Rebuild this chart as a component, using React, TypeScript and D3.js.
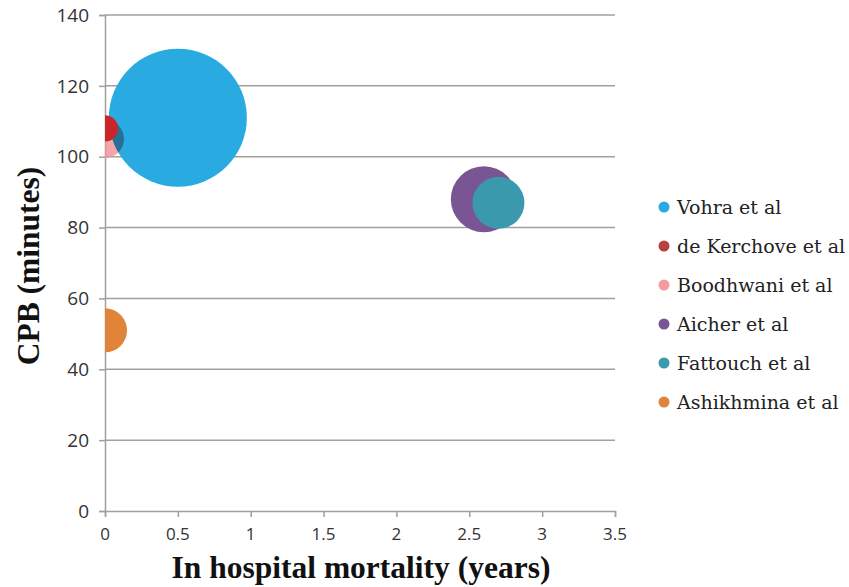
import * as d3 from 'd3';
import React, { useEffect } from 'react';

// study bubbles: x = in hospital mortality, y = CPB minutes, size = relative bubble size
const studies = ['Vohra et al', 'de Kerchove et al', 'Boodhwani et al', 'Aicher et al', 'Fattouch et al', 'Ashikhmina et al'];
const mortality = [0.5, 0, 0, 2.6, 2.7, 0];
const cpbMinutes = [111, 108, 105, 88, 87, 51];
const bubbleSize = [1000, 36, 76, 229, 142, 102];
const bubbleColors = ['#29abe2', '#c9262b', '#f28e94', '#7a5594', '#3b99ad', '#e0843a'];
const legendColors = ['#29abe2', '#b8403f', '#f39ca0', '#7a5594', '#3b99ad', '#e0843a'];
const xTicks = [0, 0.5, 1, 1.5, 2, 2.5, 3, 3.5];
const yTicks = [0, 20, 40, 60, 80, 100, 120, 140];

// drawing order as in the picture: big one first, small ones on top
const drawOrder = [0, 2, 1, 3, 4, 5];

export default function App() {
  const ref = React.useRef<HTMLDivElement>(null);

  useEffect(() => {
    if (!ref.current) return;
    document.body.style.margin = '0';
    ref.current.innerHTML = '';

    const W = 849;
    const H = 587;
    const plot = { left: 105, right: 615, top: 15, bottom: 511 };
    const tickFont = '"Open Sans", "DejaVu Sans", sans-serif';
    const grey = '#a0a0a0';

    const svg = d3
      .select(ref.current)
      .append('svg')
      .attr('width', W)
      .attr('height', H)
      .style('display', 'block')
      .style('background', '#fff');

    const x = d3.scaleLinear().domain([0, 3.5]).range([plot.left, plot.right]);
    const y = d3.scaleLinear().domain([0, 140]).range([plot.bottom, plot.top]);
    const r = d3.scaleSqrt().domain([0, d3.max(bubbleSize) as number]).range([0, 69]);

    // gridlines
    svg
      .append('g')
      .selectAll('line')
      .data(yTicks.filter(d => d > 0))
      .enter()
      .append('line')
      .attr('x1', plot.left)
      .attr('x2', plot.right)
      .attr('y1', d => y(d))
      .attr('y2', d => y(d))
      .attr('stroke', grey)
      .attr('stroke-width', 1.5);

    // axes: lines and ticks from d3, labels drawn separately
    const yAxis = svg
      .append('g')
      .attr('transform', `translate(${plot.left},0)`)
      .call(d3.axisLeft(y).tickValues(yTicks).tickSize(6).tickFormat(() => ''));
    yAxis.selectAll('.domain, .tick line').attr('stroke', grey).attr('stroke-width', 1.5);

    const xAxis = svg
      .append('g')
      .attr('transform', `translate(0,${plot.bottom})`)
      .call(d3.axisBottom(x).tickValues(xTicks).tickSize(6).tickFormat(() => ''));
    xAxis.selectAll('.domain, .tick line').attr('stroke', grey).attr('stroke-width', 1.5);

    svg
      .selectAll('.ylabel')
      .data(yTicks)
      .enter()
      .append('text')
      .attr('class', 'ylabel')
      .attr('x', plot.left - 16)
      .attr('y', d => y(d))
      .attr('dy', '0.35em')
      .attr('text-anchor', 'end')
      .style('font-family', tickFont)
      .style('font-size', '19px')
      .style('fill', '#333')
      .text(d => String(d));

    svg
      .selectAll('.xlabel')
      .data(xTicks)
      .enter()
      .append('text')
      .attr('class', 'xlabel')
      .attr('x', d => x(d))
      .attr('y', plot.bottom + 29)
      .attr('text-anchor', 'middle')
      .style('font-family', tickFont)
      .style('font-size', '17px')
      .style('fill', '#333')
      .text(d => String(d));

    // bubbles, clipped to the plot area
    svg
      .append('clipPath')
      .attr('id', 'plot-clip')
      .append('rect')
      .attr('x', plot.left)
      .attr('y', plot.top)
      .attr('width', plot.right - plot.left)
      .attr('height', plot.bottom - plot.top);

    svg
      .append('g')
      .attr('clip-path', 'url(#plot-clip)')
      .selectAll('circle')
      .data(drawOrder)
      .enter()
      .append('circle')
      .attr('cx', i => x(mortality[i]))
      .attr('cy', i => y(cpbMinutes[i]))
      .attr('r', i => r(bubbleSize[i]))
      .attr('fill', i => bubbleColors[i])
      .style('mix-blend-mode', i => (i === 2 ? 'multiply' : 'normal'))
      .attr('fill-opacity', i => (i === 2 ? 0.8 : 1));

    // legend
    const legend = svg
      .selectAll('.legend')
      .data(studies)
      .enter()
      .append('g')
      .attr('class', 'legend')
      .attr('transform', (d, i) => `translate(664,${207 + i * 39})`);

    legend
      .append('circle')
      .attr('r', 5.5)
      .attr('fill', (d, i) => legendColors[i]);

    legend
      .append('text')
      .attr('x', 13)
      .attr('dy', '.35em')
      .attr('fill', '#222')
      .style('font-family', '"DejaVu Serif", serif')
      .style('font-size', '19px')
      .text(d => d);

    // axis titles
    svg
      .append('text')
      .attr('x', 361)
      .attr('y', 578)
      .attr('text-anchor', 'middle')
      .style('font-family', '"Liberation Serif", "Times New Roman", serif')
      .style('font-weight', 'bold')
      .style('font-size', '31.5px')
      .attr('fill', '#111')
      .text('In hospital mortality (years)');

    svg
      .append('text')
      .attr('transform', `translate(39,266) rotate(-90)`)
      .attr('text-anchor', 'middle')
      .style('font-family', '"Liberation Serif", "Times New Roman", serif')
      .style('font-weight', 'bold')
      .style('font-size', '31.5px')
      .attr('fill', '#111')
      .text('CPB (minutes)');
  }, []);

  return <div ref={ref}></div>;
}
